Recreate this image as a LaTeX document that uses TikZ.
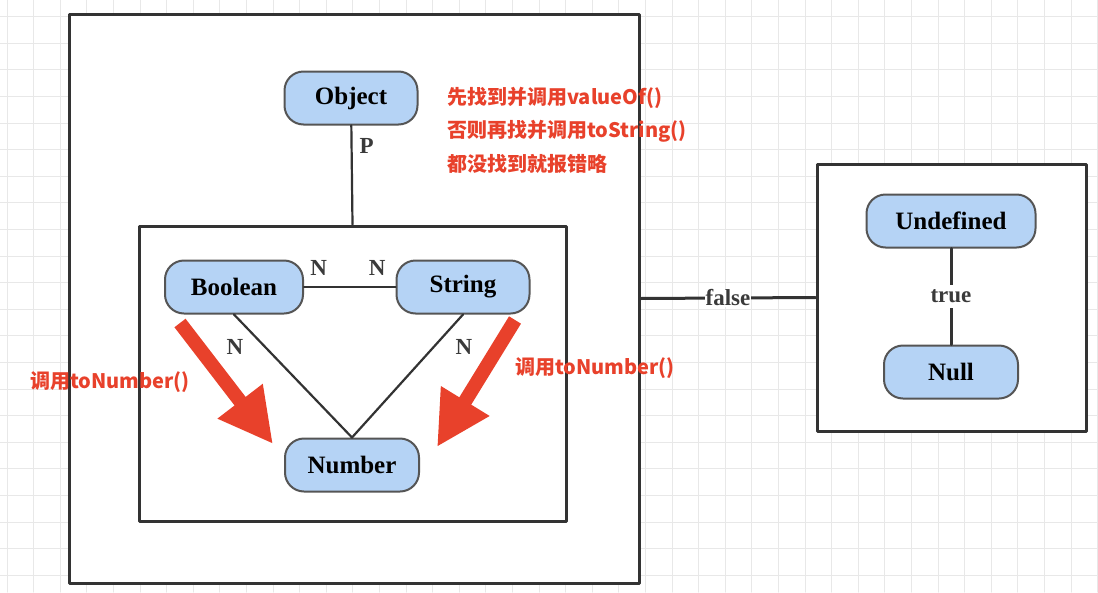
\documentclass[tikz,border=0pt]{standalone}
\usepackage{fontspec}
\setmainfont{Liberation Serif}
\newfontfamily\cjk{Noto Sans CJK SC}
\usepackage{tikz}
\usetikzlibrary{arrows.meta}
\definecolor{nodeblue}{HTML}{B5D3F5}
\definecolor{nodeline}{HTML}{555555}
\definecolor{boxline}{HTML}{333333}
\definecolor{labelgray}{HTML}{3A3A3A}
\definecolor{annored}{HTML}{E8412B}
\definecolor{gridgray}{HTML}{E8E8E8}

\begin{document}
\begin{tikzpicture}[line cap=round,line join=round,x=1pt,y=-1pt,
  typebox/.style={draw=nodeline,line width=2pt,fill=nodeblue,rounded corners=19pt,
    minimum height=53pt,inner sep=0pt,font=\fontsize{25}{25}\selectfont\bfseries},
  frame/.style={draw=boxline,line width=3pt,fill=white,inner sep=0pt},
  link/.style={draw=boxline,line width=2.2pt},
  mult/.style={font=\fontsize{23}{23}\selectfont\bfseries,text=labelgray,inner sep=1pt},
  note/.style={font=\cjk\bfseries\fontsize{20}{20}\selectfont,text=annored,anchor=west,inner sep=0pt},
  hint/.style={draw=annored,line width=14pt,line cap=butt,-{Triangle[width=53pt,length=54pt]}}]
\useasboundingbox (0,0) rectangle (1098,592);
\fill[white] (0,0) rectangle (1098,592);
% background grid
\foreach \k in {0,...,41} \draw[gridgray,line width=1pt] (7+26.6*\k,0) -- (7+26.6*\k,592);
\foreach \k in {0,...,21} \draw[gridgray,line width=1pt] (0,16.7+26.6*\k) -- (1098,16.7+26.6*\k);
% frames
\node[frame,minimum width=570pt,minimum height=569pt] (outer) at (354,298.5) {};
\node[frame,minimum width=269pt,minimum height=267pt] (nulls) at (951.5,297.5) {};
\node[frame,minimum width=427pt,minimum height=295pt] (prim) at (352.5,373.5) {};
% types
\node[typebox,minimum width=133pt] (obj) at (351,98) {Object};
\node[typebox,minimum width=138pt] (bool) at (234,287) {Boolean};
\node[typebox,minimum width=133pt] (str) at (463,287) {String};
\node[typebox,minimum width=134pt] (num) at (352,465) {Number};
\node[typebox,minimum width=169pt] (undef) at (951,221) {Undefined};
\node[typebox,minimum width=134pt] (null) at (951,372) {Null};
% links
\draw[link] (obj) -- node[mult,pos=0.21,right=6pt]{P} (prim.north);
\draw[link] (bool) -- node[mult,pos=0.16,above=9pt]{N} node[mult,pos=0.8,above=9pt]{N} (str);
\draw[link] (bool.south) -- (num.north);
\draw[link] (str.south) -- (num.north);
\node[mult] (nbool) at (235,347) {N};
\node[mult] (nstr) at (464,347) {N};
\draw[link,line width=3pt] (outer.east) -- node[mult,fill=white]{false} (nulls.west);
\draw[link,line width=3pt] (undef) -- node[mult,fill=white,inner sep=5pt]{true} (null);
% red hints
\coordinate (lhs) at (180,323);
\coordinate (lht) at (273,444);
\coordinate (rhs) at (515,320);
\coordinate (rht) at (437,447);
\draw[hint] (lhs) -- (lht);
\draw[hint] (rhs) -- (rht);
\node[note] (n1) at (447,98) {先找到并调用valueOf()};
\node[note] (n2) at (447,131) {否则再找并调用toString()};
\node[note] (n3) at (447,164) {都没找到就报错略};
\node[note] (cl) at (30,382) {调用toNumber()};
\node[note] (cr) at (515,368) {调用toNumber()};
\end{tikzpicture}
\end{document}
